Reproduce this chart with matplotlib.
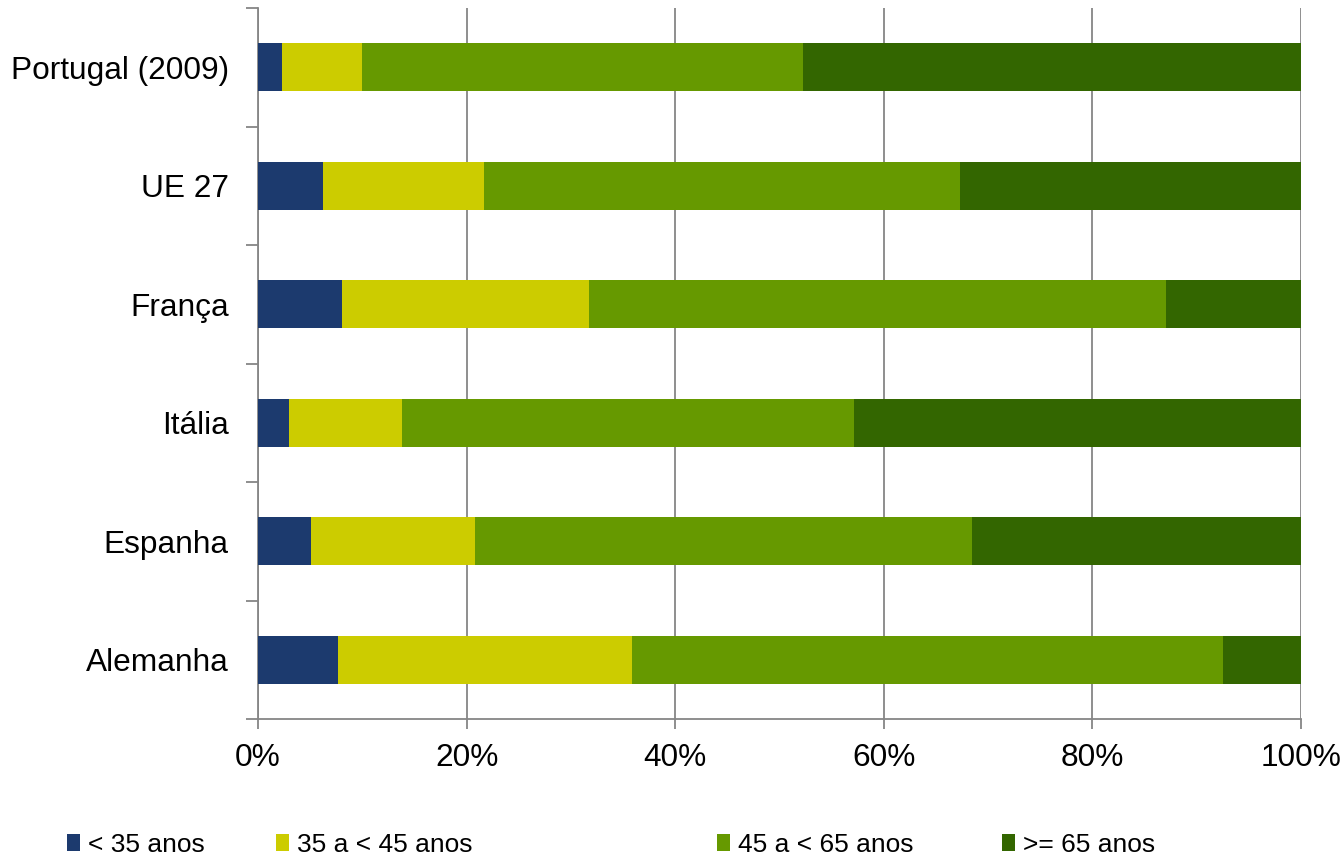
import numpy as np
import matplotlib.pyplot as plt
from matplotlib.ticker import FixedLocator, PercentFormatter

# shares by age group (percent)
countries = ['Portugal (2009)', 'UE 27', 'França', 'Itália', 'Espanha', 'Alemanha']
under_35 = [2.3, 6.2, 8.1, 3.0, 5.1, 7.7]
from_35_45 = [7.7, 15.5, 23.6, 10.8, 15.7, 28.2]
from_45_65 = [42.3, 45.6, 55.4, 43.3, 47.7, 56.6]
over_65 = [47.7, 32.7, 12.9, 42.9, 31.5, 7.5]

series_names = ['< 35 anos', '35 a < 45 anos', '45 a < 65 anos', '>= 65 anos']
colors = ['#1c3a6e', '#cccc00', '#669900', '#336600']

plt.rcParams['font.family'] = ['Liberation Sans', 'DejaVu Sans']

fig = plt.figure(figsize=(13.44, 8.65), dpi=100)
ax = fig.add_axes([258 / 1344, 1 - 719 / 865, (1301 - 258) / 1344, (719 - 8) / 865])

y = np.arange(len(countries))
left = np.zeros(len(countries))
bars = []
for vals, name, col in zip([under_35, from_35_45, from_45_65, over_65], series_names, colors):
    b = ax.barh(y, vals, left=left, height=0.405, color=col, label=name, zorder=3)
    bars.append(b)
    left += np.array(vals)

ax.set_xlim(0, 100)
ax.set_ylim(len(countries) - 0.5, -0.5)

ax.set_yticks(y)
ax.set_yticklabels(countries)
ax.yaxis.set_minor_locator(FixedLocator(np.arange(-0.5, len(countries), 1)))
ax.tick_params(axis='y', which='major', length=0, pad=21, labelsize=22.8)
ax.tick_params(axis='y', which='minor', length=8.6, width=1.3, color='#868686')

ax.set_xticks(np.arange(0, 101, 20))
ax.xaxis.set_major_formatter(PercentFormatter(decimals=0))
ax.tick_params(axis='x', which='major', length=7, width=1.3, color='#868686', pad=10, labelsize=22.8)

ax.grid(axis='x', color='#868686', linewidth=1.3, zorder=0)
for s in ['top', 'right']:
    ax.spines[s].set_visible(False)
for s in ['left', 'bottom']:
    ax.spines[s].set_color('#868686')
    ax.spines[s].set_linewidth(1.3)

# legend entries spread like the original
legend_x = [67, 276, 717, 1002]
for b, name, lx in zip(bars, series_names, legend_x):
    leg = fig.legend([b], [name], loc='center left', bbox_to_anchor=(lx / 1344, 1 - 845 / 865),
                     frameon=False, handlelength=0.5, handleheight=0.6, handletextpad=0.28,
                     borderaxespad=0, borderpad=0, prop={'size': 19})

fig.savefig('out.png', dpi=100)
